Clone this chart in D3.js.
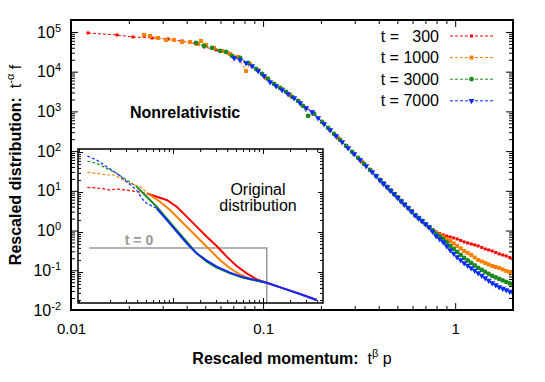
<!DOCTYPE html>
<html>
<head>
<meta charset="utf-8">
<script src="https://cdn.jsdelivr.net/npm/d3@7"></script>
<style>
	body { margin: 0; background: #fff; }
	svg { font-family: "Liberation Sans", Arial, sans-serif; }
	text { white-space: pre; }
</style>
</head>
<body>
<svg id="chart"></svg>
<script>
	var width = 545, height = 382;
	var margin = {top: 20, right: 32, bottom: 72, left: 71};

	var xTicks = [0.01, 0.1, 1];
	var xTickLabels = ["0.01", "0.1", "1"];
	var yTickExps = [-2, -1, 0, 1, 2, 3, 4, 5];

	var seriesNames = ["t =   300", "t = 1000", "t = 3000", "t = 7000"];
	var seriesColors = ["#ff0000", "#ff8000", "#1e8a1e", "#0a2cff"];

	// main panel: rescaled momentum, rescaled distribution
	var red300 = [
		[0.01226, 94400], [0.01736, 84000], [0.02103, 74800], [0.02642, 70600], [0.03201, 66700], [0.03786, 59300],
		[0.04477, 49900], [0.04928, 41900], [0.05691, 35200], [0.06572, 29600], [0.0759, 20900], [0.08765, 13900],
		[0.1012, 7800], [0.1169, 4370], [0.135, 2750], [0.1559, 1630], [0.18, 968], [0.2078, 483], [0.24, 241],
		[0.2772, 120], [0.3201, 59.9], [0.3696, 29.9],
		[0.4065, 18.8], [0.4239, 15.3], [0.4424, 12.5], [0.4614, 10.2], [0.4813, 8.35], [0.502, 6.8], [0.5232, 5.56],
		[0.5456, 4.54], [0.5691, 3.71], [0.5935, 3.03], [0.6189, 2.47], [0.6455, 2.08], [0.673, 1.745], [0.7019, 1.466],
		[0.732, 1.233], [0.7634, 1.066], [0.796, 0.922], [0.8301, 0.845], [0.866, 0.775], [0.9031, 0.731], [0.942, 0.69],
		[0.9824, 0.651], [1.024, 0.615], [1.068, 0.563], [1.114, 0.516], [1.162, 0.487], [1.212, 0.46], [1.264, 0.434],
		[1.318, 0.41], [1.375, 0.376], [1.433, 0.344], [1.494, 0.325], [1.559, 0.306], [1.626, 0.281], [1.695, 0.258],
		[1.768, 0.243], [1.844, 0.229], [1.923, 0.21], [2.0, 0.193]
	];
	var orange1000 = [
		[0.024, 84000], [0.02579, 79300], [0.02838, 70600], [0.03125, 62900], [0.0344, 62900], [0.03786, 56000],
		[0.04168, 56000], [0.04587, 49900], [0.04754, 59300], [0.05048, 47100], [0.05553, 39600], [0.06116, 33200],
		[0.06733, 27900], [0.0741, 23500], [0.08154, 10400], [0.08554, 15600], [0.09419, 11000], [0.1036, 6950],
		[0.1141, 4910], [0.1256, 3670], [0.1382, 2590], [0.1522, 1830], [0.1675, 1220], [0.1844, 863], [0.2029, 542],
		[0.2234, 341], [0.2458, 214], [0.2706, 135], [0.2979, 84.8], [0.3279, 53.4], [0.3609, 33.6],
		[0.4065, 18.5], [0.4239, 15.2], [0.4424, 12.3], [0.4614, 10.1], [0.4813, 8.4], [0.502, 6.8], [0.5232, 5.5],
		[0.5456, 4.5], [0.5691, 3.7], [0.5935, 3.0], [0.6189, 2.45], [0.6455, 2.06], [0.673, 1.72], [0.7019, 1.45],
		[0.732, 1.2], [0.7634, 1.035], [0.796, 0.871], [0.8301, 0.775], [0.866, 0.69], [0.9031, 0.615], [0.942, 0.547],
		[0.9824, 0.474], [1.024, 0.41], [1.068, 0.354], [1.114, 0.306], [1.162, 0.273], [1.212, 0.243], [1.264, 0.21],
		[1.318, 0.182], [1.375, 0.167], [1.433, 0.153], [1.494, 0.14], [1.559, 0.1285], [1.626, 0.121], [1.695, 0.1144],
		[1.768, 0.105], [1.844, 0.0961], [1.923, 0.0907], [2.0, 0.0856]
	];
	var green3000 = [
		[0.04477, 52900], [0.04928, 44400], [0.05425, 39600], [0.0597, 33200], [0.06415, 31400], [0.06895, 24900],
		[0.0759, 22100], [0.08355, 16600], [0.09194, 11700], [0.0988, 8770], [0.1062, 6560], [0.1141, 4910],
		[0.1226, 3890], [0.1318, 3090], [0.1416, 2310], [0.1522, 1830], [0.1615, 1370], [0.1716, 768], [0.1844, 863],
		[0.2029, 542], [0.2181, 383], [0.2344, 270], [0.2518, 191], [0.2706, 135], [0.2908, 95.2], [0.3125, 67.3],
		[0.3357, 47.5], [0.3609, 33.6], [0.3877, 23.7],
		[0.4065, 18.9], [0.4239, 15.4], [0.4424, 12.6], [0.4614, 10.3], [0.4813, 8.3], [0.502, 6.85], [0.5232, 5.6],
		[0.5456, 4.56], [0.5691, 3.72], [0.5935, 3.04], [0.6189, 2.46], [0.6455, 2.07], [0.673, 1.74], [0.7019, 1.46],
		[0.732, 1.22], [0.7634, 1.006], [0.796, 0.821], [0.8301, 0.71], [0.866, 0.615], [0.9031, 0.502], [0.942, 0.41],
		[0.9824, 0.344], [1.024, 0.289], [1.068, 0.243], [1.114, 0.204], [1.162, 0.177], [1.212, 0.153], [1.264, 0.132],
		[1.318, 0.1144], [1.375, 0.102], [1.433, 0.0907], [1.494, 0.0808], [1.559, 0.072], [1.626, 0.066],
		[1.695, 0.0605], [1.768, 0.0554], [1.844, 0.0508], [1.923, 0.0466], [2.0, 0.0427]
	];
	var blue7000 = [
		[0.07064, 22100], [0.0759, 19700], [0.08154, 16600], [0.08765, 13900], [0.09419, 10400], [0.1012, 7800],
		[0.1087, 5510], [0.1169, 4370], [0.1256, 3470], [0.135, 2750], [0.145, 2180], [0.1559, 1630], [0.1675, 1220],
		[0.18, 968], [0.1934, 684], [0.2078, 483], [0.2234, 341], [0.24, 241], [0.2579, 170], [0.2772, 120],
		[0.2979, 84.8], [0.3201, 59.9], [0.344, 42.3], [0.3696, 29.9], [0.3877, 23.7],
		[0.4065, 18.6], [0.4239, 15.2], [0.4424, 12.4], [0.4614, 10.1], [0.4813, 8.3], [0.502, 6.75], [0.5232, 5.5],
		[0.5456, 4.5], [0.5691, 3.68], [0.5935, 3.0], [0.6189, 2.44], [0.6455, 2.05], [0.673, 1.73], [0.7019, 1.45],
		[0.732, 1.21], [0.7634, 0.949], [0.796, 0.731], [0.8301, 0.615], [0.866, 0.516], [0.9031, 0.41], [0.942, 0.325],
		[0.9824, 0.265], [1.024, 0.2165], [1.068, 0.182], [1.114, 0.153], [1.162, 0.132], [1.212, 0.1144],
		[1.264, 0.099], [1.318, 0.0856], [1.375, 0.0741], [1.433, 0.0641], [1.494, 0.0554], [1.559, 0.048],
		[1.626, 0.0427], [1.695, 0.038], [1.768, 0.0349], [1.844, 0.032], [1.923, 0.0293], [2.0, 0.0269]
	];

	// inset: original distribution (dashed = noisy low-p part, solid = rest)
	var insetRedDashed = [[0.1117, 13.1], [0.1545, 12.4], [0.2, 11.2], [0.237, 11.9], [0.306, 11.2], [0.395, 10.2], [0.51, 9.27]];
	var insetRedSolid = [[0.51, 9.27], [0.659, 7.64], [0.851, 6.31], [1.1, 4.3], [1.42, 2.42], [1.83, 1.36], [2.37, 0.764],
		[3.06, 0.447], [3.95, 0.242], [5.1, 0.141], [6.59, 0.0927], [8.51, 0.0656], [11.0, 0.054], [16.8, 0.039],
		[25.8, 0.0282], [39.5, 0.02]];
	var insetOrangeDashed = [[0.1117, 31], [0.142, 29.3], [0.183, 26.6], [0.227, 26.6], [0.258, 22], [0.333, 16.5], [0.43, 13.6], [0.555, 8.41]];
	var insetOrangeSolid = [[0.555, 8.41], [0.717, 5.73], [0.926, 3.55], [1.196, 2.0], [1.545, 1.12], [1.995, 0.631],
		[2.58, 0.355], [3.33, 0.2], [4.3, 0.124], [5.55, 0.0875], [7.17, 0.0668], [11.0, 0.054]];
	var insetGreenDashed = [[0.1117, 59.6], [0.142, 52], [0.183, 39], [0.237, 29.3], [0.306, 20], [0.395, 13.6]];
	var insetGreenSolid = [[0.395, 13.6], [0.51, 7.64], [0.659, 4.3], [0.851, 2.2], [1.1, 1.12], [1.42, 0.573],
		[1.83, 0.293], [2.37, 0.181], [3.06, 0.128], [4.3, 0.0927], [6.04, 0.0722], [11.0, 0.054]];
	var insetBlueDashed = [[0.1117, 79.4], [0.142, 63], [0.183, 43], [0.237, 29.3], [0.306, 18.1], [0.395, 11.2],
		[0.449, 6.95], [0.51, 5.21], [0.659, 3.91]];
	var insetBlueSolid = [[0.659, 3.91], [0.851, 2.0], [1.1, 1.02], [1.42, 0.521], [1.83, 0.293], [2.37, 0.192],
		[3.06, 0.136], [4.3, 0.0962], [6.04, 0.0736], [11.0, 0.054], [16.8, 0.039], [25.8, 0.0282], [39.5, 0.02]];
	var insetT0 = [[0.1167, 0.4], [11.0, 0.4], [11.0, 0.0168]];

	var series = [red300, orange1000, green3000, blue7000];
	var insetSeries = [[insetRedDashed, insetRedSolid], [insetOrangeDashed, insetOrangeSolid],
		[insetGreenDashed, insetGreenSolid], [insetBlueDashed, insetBlueSolid]];

	var svg = d3.select("#chart").attr("width", width).attr("height", height);
	var w = width - margin.left - margin.right, h = height - margin.top - margin.bottom;
	var x = d3.scaleLog().domain([0.01, 2]).range([0, w]);
	var y = d3.scaleLog().domain([0.01, 2e5]).range([h, 0]);

	var defs = svg.append("defs");
	defs.append("clipPath").attr("id", "clip").append("rect").attr("width", w).attr("height", h);

	var g = svg.append("g").attr("transform", "translate(" + margin.left + "," + margin.top + ")");

	function notDecade(v) {
		var l = Math.log10(v);
		return Math.abs(l - Math.round(l)) > 1e-6;
	}

	// inward ticks on all four sides, majors plus log minors
	function frameTicks(area, xs, ys, wd, ht, xMajor, yMajor, big, small) {
		var xMinor = xs.ticks().filter(notDecade), yMinor = ys.ticks().filter(notDecade);
		var sides = [
			[d3.axisBottom, xs, xMajor, xMinor, "translate(0," + ht + ")"],
			[d3.axisTop, xs, xMajor, xMinor, null],
			[d3.axisLeft, ys, yMajor, yMinor, null],
			[d3.axisRight, ys, yMajor, yMinor, "translate(" + wd + ",0)"]
		];
		sides.forEach(function(s) {
			[[s[2], big], [s[3], small]].forEach(function(t) {
				area.append("g").attr("transform", s[4])
					.call(s[0](s[1]).tickValues(t[0]).tickSizeInner(-t[1]).tickSizeOuter(0).tickFormat(""))
					.select(".domain").remove();
			});
		});
	}

	var yMajor = yTickExps.map(function(e) { return Math.pow(10, e); });
	frameTicks(g, x, y, w, h, xTicks, yMajor, 7, 4);

	// tick labels
	var xAxis = g.append("g").attr("transform", "translate(0," + h + ")")
		.call(d3.axisBottom(x).tickValues(xTicks).tickSize(0).tickPadding(13)
			.tickFormat(function(d, i) { return xTickLabels[i]; }));
	xAxis.attr("font-size", 15).attr("font-family", null).select(".domain").remove();

	var yAxis = g.append("g")
		.call(d3.axisLeft(y).tickValues(yMajor).tickSize(0).tickPadding(10).tickFormat(""));
	yAxis.attr("font-size", 16).attr("font-family", null).select(".domain").remove();
	yAxis.selectAll(".tick text").each(function(d) {
		var t = d3.select(this);
		t.append("tspan").text("10");
		t.append("tspan").attr("dy", "-0.55em").attr("font-size", 11).text(String(Math.round(Math.log10(d))));
	});

	// series
	var line = d3.line().x(function(d) { return x(d[0]); }).y(function(d) { return y(d[1]); });
	var symbols = [
		d3.symbol().type(d3.symbolSquare).size(9),
		d3.symbol().type(d3.symbolSquare).size(16),
		d3.symbol().type(d3.symbolCircle).size(18),
		d3.symbol().type(d3.symbolTriangle).size(16)
	];

	var plot = g.append("g").attr("clip-path", "url(#clip)");
	series.forEach(function(data, i) {
		plot.append("path").datum(data).attr("d", line)
			.attr("fill", "none").attr("stroke", seriesColors[i]).attr("stroke-width", 1).attr("stroke-dasharray", "3,2");
		plot.selectAll(".pt" + i).data(data).enter().append("path")
			.attr("class", "pt" + i)
			.attr("transform", function(d) { return "translate(" + x(d[0]) + "," + y(d[1]) + ")" + (i === 3 ? " rotate(180)" : ""); })
			.attr("d", symbols[i]())
			.attr("fill", seriesColors[i]);
	});

	g.append("rect").attr("width", w).attr("height", h)
		.attr("fill", "none").attr("stroke", "#000").attr("stroke-width", 2);

	// legend
	var legend = g.append("g").attr("font-size", 16);
	seriesNames.forEach(function(name, i) {
		var ly = 16 + i * 21.6;
		legend.append("text").attr("x", 368).attr("y", ly + 5.5).attr("text-anchor", "end").text(name);
		legend.append("line").attr("x1", 379).attr("x2", 422).attr("y1", ly).attr("y2", ly)
			.attr("stroke", seriesColors[i]).attr("stroke-dasharray", "3,2");
		legend.append("path").attr("d", symbols[i]())
			.attr("transform", "translate(400.5," + ly + ")" + (i === 3 ? " rotate(180)" : ""))
			.attr("fill", seriesColors[i]);
	});

	g.append("text").attr("x", 59).attr("y", 98).attr("font-size", 16).attr("font-weight", "bold").text("Nonrelativistic");

	// inset
	var inset = {left: 78, top: 149, width: 245, height: 154};
	var ix = d3.scaleLog().domain([0.088, 46.4]).range([0, inset.width]);
	var iy = d3.scaleLog().domain([0.0168, 118.9]).range([inset.height, 0]);
	defs.append("clipPath").attr("id", "clip-inset").append("rect").attr("width", inset.width).attr("height", inset.height);

	var ig = svg.append("g").attr("transform", "translate(" + inset.left + "," + inset.top + ")");
	ig.append("rect").attr("width", inset.width).attr("height", inset.height).attr("fill", "#fff");

	var iline = d3.line().x(function(d) { return ix(d[0]); }).y(function(d) { return iy(d[1]); });
	var iplot = ig.append("g").attr("clip-path", "url(#clip-inset)");
	iplot.append("path").datum(insetT0).attr("d", iline)
		.attr("fill", "none").attr("stroke", "#9a9a9a").attr("stroke-width", 1.5);
	insetSeries.forEach(function(parts, i) {
		iplot.append("path").datum(parts[0]).attr("d", iline)
			.attr("fill", "none").attr("stroke", seriesColors[i]).attr("stroke-width", 1.2).attr("stroke-dasharray", "3,2");
		iplot.append("path").datum(parts[1]).attr("d", iline)
			.attr("fill", "none").attr("stroke", seriesColors[i]).attr("stroke-width", 2);
	});

	frameTicks(ig, ix, iy, inset.width, inset.height, [1, 10], [0.1, 1, 10, 100], 5, 3);
	ig.append("rect").attr("width", inset.width).attr("height", inset.height)
		.attr("fill", "none").attr("stroke", "#000").attr("stroke-width", 1.5);

	ig.append("text").attr("x", 180).attr("y", 46).attr("text-anchor", "middle").attr("font-size", 16).text("Original");
	ig.append("text").attr("x", 180).attr("y", 62).attr("text-anchor", "middle").attr("font-size", 16).text("distribution");
	ig.append("text").attr("x", 61).attr("y", 96).attr("text-anchor", "middle").attr("font-size", 14)
		.attr("font-weight", "bold").attr("fill", "#9a9a9a").text("t = 0");

	// axis titles
	var xt = svg.append("text").attr("x", margin.left + w / 2).attr("y", 364).attr("text-anchor", "middle").attr("font-size", 16);
	xt.append("tspan").attr("font-weight", "bold").text("Rescaled momentum:");
	xt.append("tspan").text("  t");
	xt.append("tspan").attr("dy", -7).attr("font-size", 11).text("β");
	xt.append("tspan").attr("dy", 7).text(" p");

	var yt = svg.append("text").attr("transform", "translate(21," + (margin.top + h / 2) + ") rotate(-90)")
		.attr("text-anchor", "middle").attr("font-size", 16);
	yt.append("tspan").attr("font-weight", "bold").text("Rescaled distribution:");
	yt.append("tspan").text("  t");
	yt.append("tspan").attr("dy", -7).attr("font-size", 11).text("-α");
	yt.append("tspan").attr("dy", 7).text(" f");
</script>
</body>
</html>
